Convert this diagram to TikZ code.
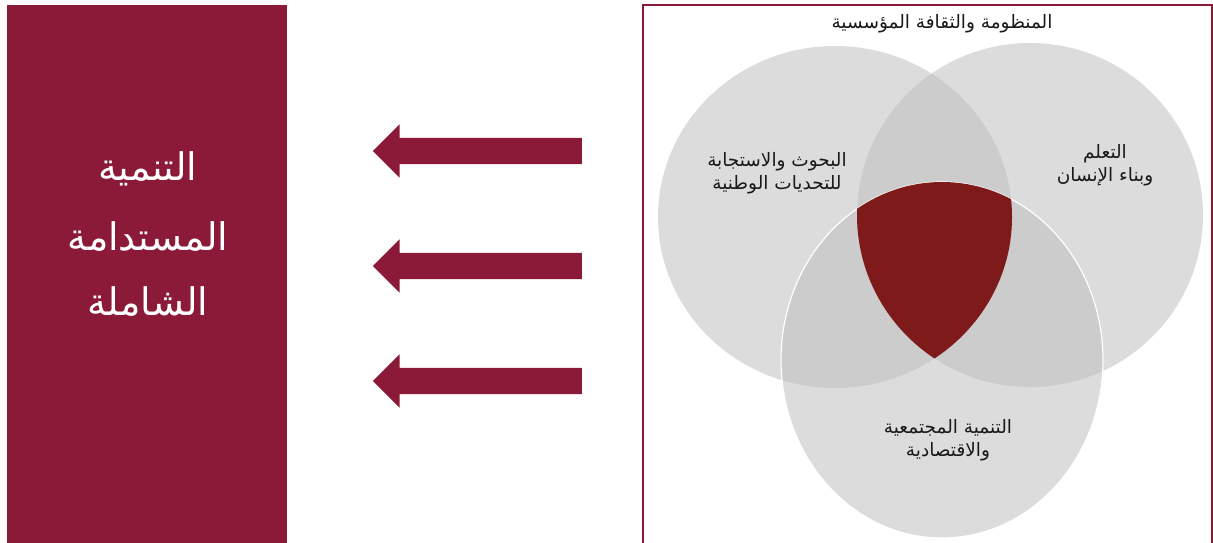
\documentclass[tikz,border=0pt]{standalone}
\usepackage{fontspec}
\usetikzlibrary{shapes.arrows}
\newfontfamily\arabicfont[Script=Arabic]{DejaVu Sans}
\TeXXeTstate=1
\definecolor{maroon}{RGB}{139,26,56}
\definecolor{shieldred}{RGB}{127,26,27}
\definecolor{disc}{RGB}{190,190,190}
\definecolor{ink}{RGB}{25,25,25}

\begin{document}
\begin{tikzpicture}[x = 1pt, y = -1pt]
				\tikzset{bigarrow/.style = {shape=single arrow, fill = maroon, shape border rotate = 180, minimum width = 53pt, minimum height = 209pt, single arrow head extend = 13.5pt, single arrow head indent = 0pt, inner xsep = 0pt, inner ysep = 13pt}}
				\tikzset{disk/.style = {fill = disc, fill opacity = 0.54}}
				\tikzset{venntext/.style = {text = ink, align = center, font = \arabicfont\fontsize{18.5}{23}\selectfont}}
				\tikzset{goaltext/.style = {text = white, font = \arabicfont\fontsize{38}{44}\selectfont}}
				
				\useasboundingbox (0,0) rectangle (1213,542);
				
				% left block
				\node[fill = maroon, minimum width = 280pt, minimum height = 540pt, anchor = north west, inner sep = 0pt] (goal) at (7,5) {};
				\node[goaltext] (goal_1) at (148,169) {\beginR التنمية\endR};
				\node[goaltext] (goal_2) at (148,237) {\beginR المستدامة\endR};
				\node[goaltext] (goal_3) at (148,302) {\beginR الشاملة\endR};
				
				% arrows
				\node[bigarrow] (arrow_1) at (484,151) {};
				\node[bigarrow] (arrow_2) at (484,266) {};
				\node[bigarrow] (arrow_3) at (484,381) {};
				
				% frame
				\draw[maroon, line width = 1.2pt] (643,5) rectangle (1212,548);
				\node[venntext] (label_top) at (942,24) {\beginR المنظومة والثقافة المؤسسية\endR};
				
				% circles
				\coordinate (L) at (835,217);
				\coordinate (R) at (1030,215);
				\coordinate (B) at (942,360);
				\fill[disk] (L) ellipse [x radius = 177, y radius = 171];
				\fill[disk] (R) ellipse [x radius = 173, y radius = 172];
				\fill[disk] (B) ellipse [x radius = 161, y radius = 178];
				\draw[white, line width = 1.2pt] (B) ellipse [x radius = 161, y radius = 178];
				\begin{scope}
					\clip (L) ellipse [x radius = 177, y radius = 171];
					\clip (R) ellipse [x radius = 173, y radius = 172];
					\fill[shieldred] (B) ellipse [x radius = 161, y radius = 178];
				\end{scope}
				
				\node[venntext] (label_L) at (777,173) {\beginR البحوث والاستجابة\endR\\\beginR للتحديات الوطنية\endR};
				\node[venntext] (label_R) at (1105,165) {\beginR التعلم\endR\\\beginR وبناء الإنسان\endR};
				\node[venntext] (label_B) at (948,440) {\beginR التنمية المجتمعية\endR\\\beginR والاقتصادية\endR};
				
			\end{tikzpicture}
\end{document}
